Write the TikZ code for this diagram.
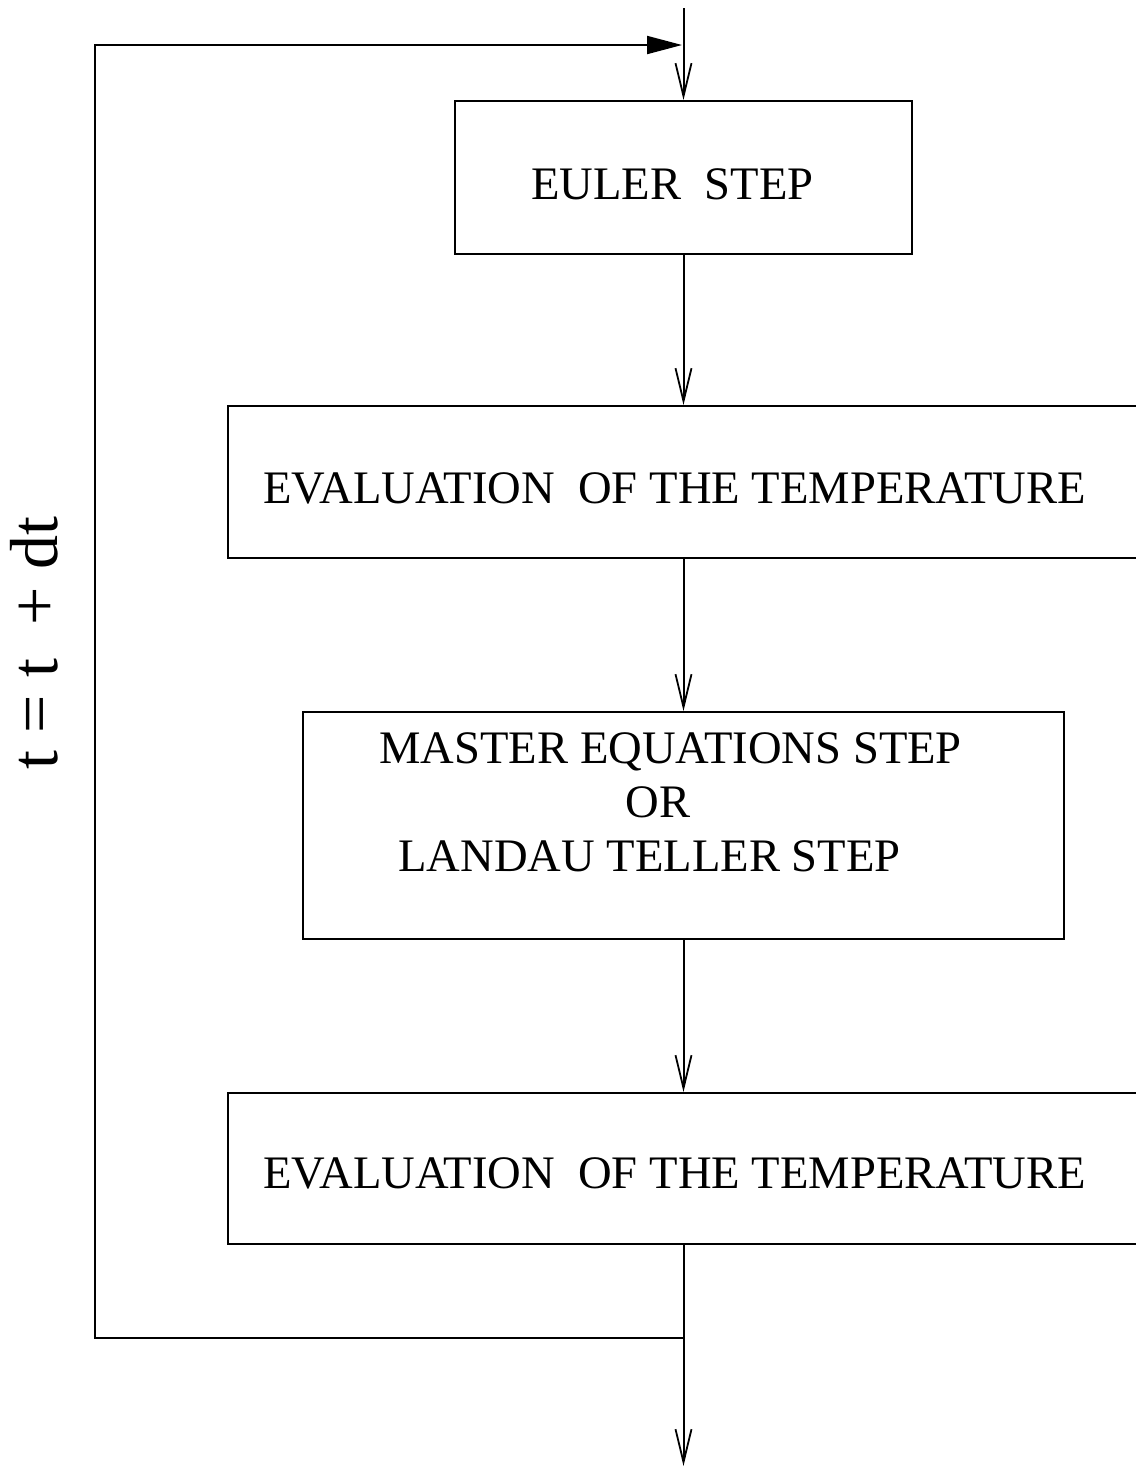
\documentclass[tikz,border=0pt]{standalone}
\usepackage{fontspec}
\setmainfont{Liberation Serif}
\usetikzlibrary{arrows.meta}
\tikzset{
  box/.style={draw, line width=1pt, inner sep=0pt},
  lbl/.style={inner sep=0pt, anchor=base west, font=\fontsize{23.3}{28}\selectfont},
  openarr/.style={-{Straight Barb[length=16.5pt,width=8pt,line width=0.9pt]}, line width=1pt},
  triarr/.style={-{Triangle[length=17.5pt,width=9pt]}, line width=1pt},
  plain/.style={line width=1pt}
}
\begin{document}
\begin{tikzpicture}[x=0.5pt,y=-0.5pt]
\useasboundingbox (0,0) rectangle (1136,1469);
\clip (0,0) rectangle (1136,1469);
% boxes
\node[box, minimum width=228.5pt, minimum height=76.5pt] (b1) at (683.5,177.5) {};
\node[box, minimum width=461pt, minimum height=76pt] (b2) at (689,482) {};
\node[box, minimum width=380.5pt, minimum height=113.5pt] (b3) at (683.5,825.5) {};
\node[box, minimum width=461pt, minimum height=75.5pt] (b4) at (689,1168.5) {};
% texts
\node[lbl] (t1) at (531,199) {EULER\ \ STEP};
\node[lbl] (t2) at (263,503) {EVALUATION\ \ OF THE TEMPERATURE};
\node[lbl] (t3a) at (379,763) {MASTER EQUATIONS STEP};
\node[lbl] (t3b) at (625,817) {OR};
\node[lbl] (t3c) at (398,871) {LANDAU TELLER STEP};
\node[lbl] (t4) at (263,1188) {EVALUATION\ \ OF THE TEMPERATURE};
\node[inner sep=0pt, anchor=base, rotate=90, font=\fontsize{34}{40}\selectfont] (tl) at (57,643) {t = t\ \ + dt};
% coordinates
\coordinate (top) at (683.5,8);
\coordinate (join) at (683.5,1338);
\coordinate (bot) at (683.5,1466);
\coordinate (lb) at (95,1338);
\coordinate (lt) at (95,45);
\coordinate (rt) at (682,45);
% connectors
\draw[openarr] (top) -- (b1.north);
\draw[openarr] (b1.south) -- (b1.south |- b2.north);
\draw[openarr] (b1.south |- b2.south) -- (b3.north);
\draw[openarr] (b3.south) -- (b3.south |- b4.north);
\draw[openarr] (b3.south |- b4.south) -- (bot);
\draw[triarr] (join) -- (lb) -- (lt) -- (rt);
\end{tikzpicture}
\end{document}
